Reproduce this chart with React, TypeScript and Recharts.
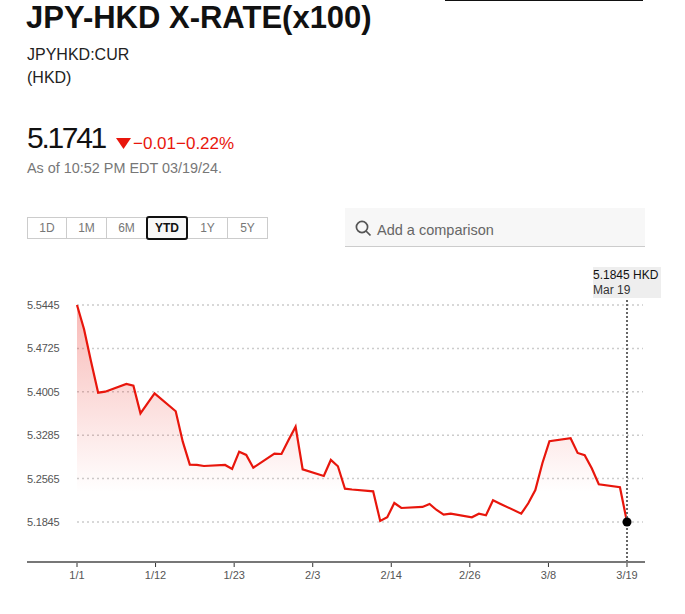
import { AreaChart, Area, XAxis, YAxis, CartesianGrid, ReferenceLine, ReferenceDot } from "recharts";

const FONT = '"Liberation Sans", Arial, sans-serif';

// days since Jan 1 (weekdays only)
const days = [
  0, 1, 2, 3, 4, 7, 8, 9, 10, 11, 14, 15, 16, 17, 18, 21, 22, 23, 24, 25, 28, 29, 30, 31, 32, 35, 36, 37, 38, 39, 42,
  43, 44, 45, 46, 49, 50, 51, 52, 53, 56, 57, 58, 59, 60, 63, 64, 65, 66, 67, 70, 71, 72, 73, 74, 77, 78,
];
const rates = [
  5.5445, 5.5042, 5.4504, 5.399, 5.4007, 5.4134, 5.4106, 5.3648, 5.3814, 5.398, 5.3682, 5.3177, 5.2796, 5.2791, 5.2774,
  5.2791, 5.2724, 5.3011, 5.2957, 5.2746, 5.2978, 5.2973, 5.3205, 5.3426, 5.2719, 5.2608, 5.2874, 5.2769, 5.2397,
  5.2384, 5.2354, 5.1862, 5.1923, 5.216, 5.2077, 5.2094, 5.2144, 5.2044, 5.1966, 5.1983, 5.1923, 5.1983, 5.1956,
  5.2205, 5.2149, 5.1983, 5.2155, 5.2376, 5.2819, 5.3184, 5.3234, 5.299, 5.2952, 5.2736, 5.247, 5.2421, 5.1845,
];
const xTicks = [0, 11.14, 22.29, 33.43, 44.57, 55.71, 66.86, 78];
const xLabels = ["1/1", "1/12", "1/23", "2/3", "2/14", "2/26", "3/8", "3/19"];
const yTicks = [5.1845, 5.2565, 5.3285, 5.4005, 5.4725, 5.5445];
const ranges = ["1D", "1M", "6M", "YTD", "1Y", "5Y"];

const chartData = days.map((day, i) => ({ day, rate: rates[i] }));

function YTick({ y, payload }: any) {
  return (
    <text x={27} y={y + 4} fontSize={11} fill="#555" fontFamily={FONT} letterSpacing={-0.2}>
      {payload.value.toFixed(4)}
    </text>
  );
}

const abs = (left: number, top: number, extra: React.CSSProperties = {}): React.CSSProperties => ({
  position: "absolute",
  left,
  top,
  whiteSpace: "nowrap",
  ...extra,
});

const buttonEdges = [27, 66, 106, 146, 187, 227, 267];

function RangeButtons() {
  return (
    <>
      {ranges.map((r, i) => {
        const active = r === "YTD";
        return (
          <div
            key={r}
            style={abs(buttonEdges[i], active ? 216 : 217, {
              width: buttonEdges[i + 1] - buttonEdges[i] + 1,
              height: active ? 24 : 22,
              boxSizing: "border-box",
              border: active ? "2px solid #111" : "1px solid #ccc",
              borderRadius: active ? 3 : 0,
              background: active ? "#f7f7f7" : "#fff",
              color: active ? "#111" : "#777",
              fontWeight: active ? 700 : 400,
              fontSize: 12,
              textAlign: "center",
              lineHeight: "21px",
              zIndex: active ? 2 : 1,
            })}
          >
            {r}
          </div>
        );
      })}
    </>
  );
}

export default function App() {
  return (
    <div style={{ position: "absolute", left: 0, top: 0, width: 685, height: 614, fontFamily: FONT, overflow: "hidden", background: "#fff" }}>
      <div style={abs(445, 0, { width: 198, height: 1, background: "#111" })} />
      <div style={abs(26, 0, { fontSize: 31, fontWeight: 700, lineHeight: "36px", color: "#111" })}>JPY-HKD X-RATE(x100)</div>
      <div style={abs(27, 45, { fontSize: 16, lineHeight: "20px", color: "#222" })}>JPYHKD:CUR</div>
      <div style={abs(27, 68, { fontSize: 16, lineHeight: "20px", color: "#222" })}>(HKD)</div>
      <div style={abs(27, 120, { fontSize: 30, lineHeight: "36px", color: "#111", letterSpacing: -2.3 })}>5.1741</div>
      <svg style={abs(116, 138)} width={16} height={12}>
        <polygon points="0,0 15,0 7.5,11" fill="#e8160c" />
      </svg>
      <div style={abs(133, 134, { fontSize: 17, lineHeight: "20px", color: "#e8160c" })}>−0.01−0.22%</div>
      <div style={abs(27, 159, { fontSize: 14.4, lineHeight: "18px", color: "#777" })}>As of 10:52 PM EDT 03/19/24.</div>

      <RangeButtons />

      <div style={abs(345, 208, { width: 300, height: 39, boxSizing: "border-box", background: "#f7f7f7", borderBottom: "1px solid #ccc" })} />
      <svg style={abs(355, 220)} width={18} height={18} fill="none" stroke="#555" strokeWidth={1.7}>
        <circle cx={7} cy={7} r={5.6} />
        <line x1={11} y1={11} x2={15.5} y2={15.5} />
      </svg>
      <div style={abs(377, 221, { fontSize: 14.5, lineHeight: "18px", color: "#666" })}>Add a comparison</div>

      <div style={abs(593, 267, { width: 68, height: 31, background: "#eee" })} />
      <div style={abs(593, 268, { fontSize: 12, lineHeight: "15px", color: "#111" })}>5.1845 HKD</div>
      <div style={abs(593, 283, { fontSize: 12, lineHeight: "15px", color: "#333" })}>Mar 19</div>

      <AreaChart
        width={685}
        height={614}
        data={chartData}
        margin={{ top: 298, right: 42, bottom: 22, left: 27 }}
        style={{ position: "absolute", left: 0, top: 0 }}
      >
        <defs>
          <linearGradient id="rateFill" x1="0" y1="0" x2="0" y2="1">
            <stop offset="0%" stopColor="#e8160c" stopOpacity={0.3} />
            <stop offset="73%" stopColor="#e8160c" stopOpacity={0} />
          </linearGradient>
        </defs>
        <CartesianGrid vertical={false} horizontalValues={yTicks} stroke="#ccc" strokeDasharray="2 3" strokeWidth={1.5} />
        <XAxis
          dataKey="day"
          type="number"
          domain={[0, 80.27]}
          ticks={xTicks}
          interval={0}
          height={30}
          axisLine={false}
          tickLine={{ stroke: "#333" }}
          tickSize={5}
          tickMargin={4}
          tick={{ fontSize: 11, fill: "#555", fontFamily: FONT }}
          tickFormatter={(v: number) => xLabels[xTicks.indexOf(v)]}
        />
        <YAxis
          type="number"
          domain={[5.1181, 5.5561]}
          ticks={yTicks}
          interval={0}
          width={50}
          axisLine={false}
          tickLine={false}
          tick={YTick}
        />
        <Area
          dataKey="rate"
          type="linear"
          stroke="#e8160c"
          strokeWidth={2.2}
          fill="url(#rateFill)"
          fillOpacity={1}
          dot={false}
          activeDot={false}
          isAnimationActive={false}
        />
        <ReferenceLine x={78} stroke="#666" strokeWidth={2} strokeDasharray="2 2" />
        <ReferenceDot x={78} y={5.1845} r={4.5} fill="#000" stroke="none" />
      </AreaChart>
      <div style={abs(27, 561, { width: 618, height: 2, background: "#777" })} />
    </div>
  );
}
